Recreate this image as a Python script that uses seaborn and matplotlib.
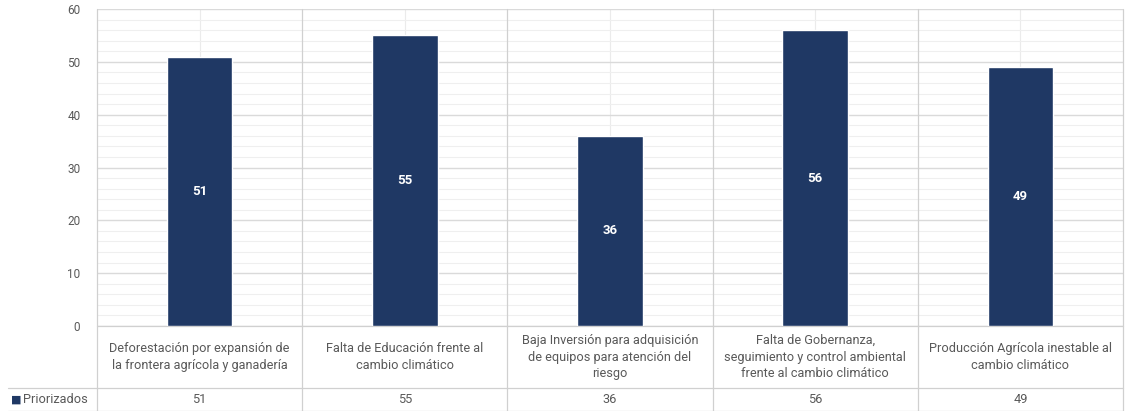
import matplotlib
matplotlib.use("Agg")
import matplotlib.pyplot as plt
import seaborn as sns
import pandas as pd
import numpy as np

categories = [
    "Deforestación por expansión de\nla frontera agrícola y ganadería",
    "Falta de Educación frente al\ncambio climático",
    "Baja Inversión para adquisición\nde equipos para atención del\nriesgo",
    "Falta de Gobernanza,\nseguimiento y control ambiental\nfrente al cambio climático",
    "Producción Agrícola inestable al\ncambio climático",
]
values = [51, 55, 36, 56, 49]
series_name = "Priorizados"
yticks = [0, 10, 20, 30, 40, 50, 60]

sns.set_theme(style="white")
plt.rcParams['font.family'] = ['Roboto', 'DejaVu Sans']

bar_color = "#1F3864"
text_color = "#595959"

fig = plt.figure(figsize=(11.25, 4.11), dpi=100)
ax = fig.add_axes([97/1125, 1 - 326/411, 1 - 97/1125 - 2/1125, (326 - 9)/411])

df = pd.DataFrame({"cat": categories, "val": values})
sns.barplot(data=df, x="cat", y="val", color=bar_color, width=0.32, ax=ax,
            saturation=1, zorder=3)

ax.set_xlim(-0.5, len(categories) - 0.5)
ax.set_ylim(0, 60)
ax.set_yticks(yticks)
ax.set_yticklabels([str(t) for t in yticks], color=text_color, fontsize=8.5)
ax.set_yticks(np.arange(0, 61, 2), minor=True)
ax.tick_params(axis='y', which='both', length=0, pad=12)
ax.set_xticks([])
ax.set_xlabel("")
ax.set_ylabel("")
for s in ax.spines.values():
    s.set_visible(False)

ax.grid(axis='y', which='major', color="#dadada", linewidth=1, zorder=0)
ax.grid(axis='y', which='minor', color="#efefef", linewidth=0.8, zorder=0)

# faint vertical gridlines at category centres (behind bars)
for i in range(len(categories)):
    ax.plot([i, i], [0, 60], color="#ebebeb", lw=0.8, zorder=0.5)

# value labels inside bars
for p, v in zip(ax.patches, values):
    ax.text(p.get_x() + p.get_width() / 2, v / 2, str(v), ha='center', va='center',
            color='white', fontsize=9.5, fontweight='bold', zorder=4)

# data table
row_label_bottom = -62 / 317 * 60
row_val_bottom = -85 / 317 * 60
line_c = "#d0d0d0"
for i in range(len(categories) + 1):
    ax.plot([i - 0.5, i - 0.5], [60, row_val_bottom], color=line_c, lw=0.9,
            clip_on=False, zorder=1)
ax.plot([-0.5, len(categories) - 0.5], [0, 0], color=line_c, lw=0.9, clip_on=False, zorder=2)
x_left = (8 - 97) / 205.2 - 0.5
ax.plot([x_left, len(categories) - 0.5], [row_label_bottom, row_label_bottom],
        color=line_c, lw=0.9, clip_on=False)
ax.plot([x_left, len(categories) - 0.5], [row_val_bottom, row_val_bottom],
        color=line_c, lw=0.9, clip_on=False)

for i, (c, v) in enumerate(zip(categories, values)):
    ax.text(i, row_label_bottom / 2, c, ha='center', va='center', color=text_color,
            fontsize=9.2, linespacing=1.35, clip_on=False)
    ax.text(i, (row_label_bottom + row_val_bottom) / 2, str(v), ha='center', va='center',
            color=text_color, fontsize=9.2, clip_on=False)

ymid = (row_label_bottom + row_val_bottom) / 2
ax.text(x_left + 0.015, ymid, "\u25A0", color=bar_color, fontsize=8, ha='left', va='center',
        clip_on=False, family=['DejaVu Sans'])
ax.text(x_left + 0.075, ymid, series_name, color=text_color, fontsize=9.2, ha='left',
        va='center', clip_on=False)

fig.savefig("out.png", dpi=100, facecolor="white")
